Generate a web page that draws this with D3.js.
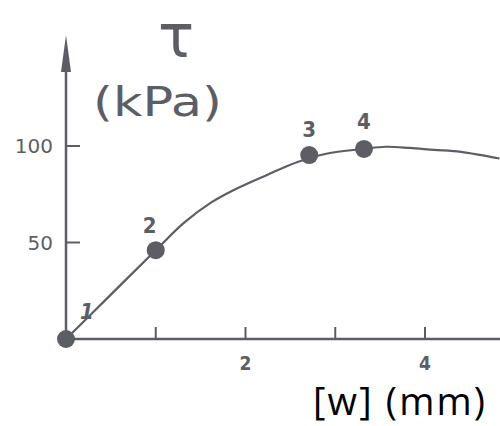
<!DOCTYPE html>
<html><head><meta charset="utf-8">
<script src="https://cdn.jsdelivr.net/npm/d3@7"></script>
<style>body{margin:0;background:#fff;}svg{display:block;}</style>
</head><body>
<svg id="c" width="500" height="426"></svg>
<script>
// data
const curveX = [0, 0.5, 1.0, 1.31, 1.61, 1.87, 2.24, 2.58, 2.9, 3.32, 3.56, 3.83, 4.1, 4.4, 4.83];
const curveY = [0, 23, 46, 60, 70.5, 77.2, 85, 91.7, 96, 98.5, 99.6, 99, 98, 97, 93.5];
const pointX = [0, 1.0, 2.71, 3.32];
const pointY = [0, 46, 95.3, 98.5];
const pointLabels = ["1", "2", "3", "4"];
const xTicks = [1, 2, 3, 4];
const xTickLabels = ["2", "4"];
const xTickLabelVals = [2, 4];
const yTicks = [50, 100];
const yTickLabels = ["50", "100"];

const col = "#5c5e66";
const svg = d3.select("#c");
const x = d3.scaleLinear().domain([0, 4]).range([66, 425]);
const y = d3.scaleLinear().domain([0, 100]).range([339, 146]);

// axes
svg.append("line").attr("x1", x(0)).attr("x2", 500).attr("y1", y(0)).attr("y2", y(0))
  .attr("stroke", col).attr("stroke-width", 2.5);
svg.append("line").attr("x1", x(0)).attr("x2", x(0)).attr("y1", y(0)).attr("y2", 60)
  .attr("stroke", col).attr("stroke-width", 2.5);
svg.append("path").attr("d", `M${x(0)},35 L${x(0)-5},72 L${x(0)+5},72 Z`).attr("fill", col);

svg.selectAll(".xt").data(xTicks).join("line")
  .attr("x1", d => x(d)).attr("x2", d => x(d)).attr("y1", y(0)).attr("y2", y(0) - 12)
  .attr("stroke", col).attr("stroke-width", 2);
svg.selectAll(".yt").data(yTicks).join("line")
  .attr("x1", x(0)).attr("x2", x(0) + 14).attr("y1", d => y(d)).attr("y2", d => y(d))
  .attr("stroke", col).attr("stroke-width", 2);

svg.selectAll(".xl").data(xTickLabelVals).join("text")
  .attr("x", d => x(d)).attr("y", y(0) + 31).attr("text-anchor", "middle")
  .attr("font-family", "DejaVu Sans Condensed, DejaVu Sans").attr("font-weight", "bold")
  .attr("font-size", 19).attr("fill", col).text((d, i) => xTickLabels[i]);
svg.selectAll(".yl").data(yTicks).join("text")
  .attr("x", x(0) - 13).attr("y", d => y(d) + 7).attr("text-anchor", "end")
  .attr("font-family", "DejaVu Sans")
  .attr("font-size", 20).attr("fill", col).text((d, i) => yTickLabels[i]);

// curve
const pts = curveX.map((v, i) => [v, curveY[i]]);
const line = d3.line().x(d => x(d[0])).y(d => y(d[1])).curve(d3.curveCatmullRom);
svg.append("path").attr("d", line(pts)).attr("fill", "none").attr("stroke", col).attr("stroke-width", 2.2);

svg.selectAll(".pt").data(pointX).join("circle")
  .attr("cx", d => x(d)).attr("cy", (d, i) => y(pointY[i])).attr("r", 9).attr("fill", col);

const lblOff = [[21, -20], [-6, -17], [0, -18], [0, -20]];
svg.selectAll(".pl").data(pointX).join("text")
  .attr("x", (d, i) => x(d) + lblOff[i][0]).attr("y", (d, i) => y(pointY[i]) + lblOff[i][1])
  .attr("text-anchor", "middle").attr("font-family", "DejaVu Sans Condensed, DejaVu Sans")
  .attr("font-weight", "bold").attr("font-size", 22).attr("fill", col)
  .attr("font-style", (d, i) => i === 0 ? "italic" : "normal")
  .text((d, i) => pointLabels[i]);

// title
svg.append("text").attr("x", 176).attr("y", 57).attr("text-anchor", "middle")
  .attr("font-family", "DejaVu Sans").attr("font-size", 60)
  .attr("fill", col).text("τ");
svg.append("text").attr("x", 93).attr("y", 116)
  .attr("font-family", "DejaVu Sans").attr("font-size", 40)
  .attr("textLength", 129).attr("lengthAdjust", "spacingAndGlyphs").attr("fill", col).text("(kPa)");

// x axis label
svg.append("text").attr("x", 313).attr("y", 415)
  .attr("font-family", "Open Sans").attr("font-size", 38).attr("textLength", 172)
  .attr("fill", "#000").text("[w] (mm)");
</script>
</body></html>
